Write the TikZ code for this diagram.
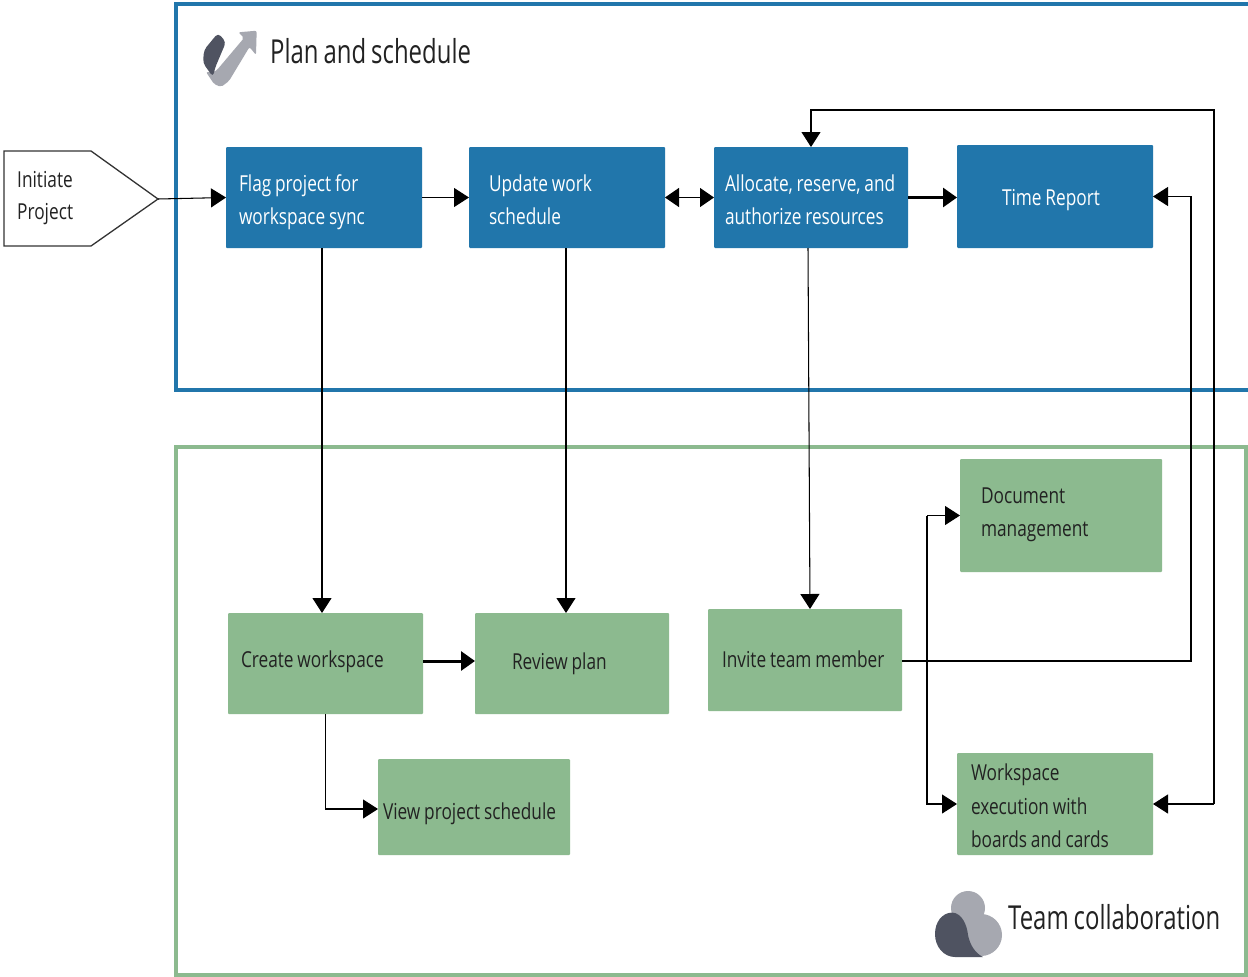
\documentclass[tikz,border=0pt]{standalone}
\usepackage{fontspec}
\setmainfont[FakeStretch=0.785,WordSpace=0.85]{Open Sans}
\newfontfamily\titlefont[FakeStretch=0.725,WordSpace=0.8]{Open Sans}
\usetikzlibrary{arrows.meta}
\definecolor{bluefill}{HTML}{2176AB}
\definecolor{greenfill}{HTML}{8CBA8F}
\definecolor{icondark}{HTML}{4F5361}
\definecolor{icongray}{HTML}{A6A8B0}
\definecolor{inktext}{HTML}{222222}
\tikzset{
  x=1pt,y=-1pt,
  box/.style={anchor=north west,rounded corners=1pt,outer sep=0pt,inner sep=0pt,font=\fontsize{22}{33.5}\selectfont},
  bluebox/.style={box,fill=bluefill,text=white},
  greenbox/.style={box,fill=greenfill,text=inktext},
  frameb/.style={draw=bluefill,line width=4pt},
  frameg/.style={draw=greenfill,line width=4pt},
  conn/.style={draw=black,line width=1.05pt,-{Triangle[length=15pt,width=19pt,fill=black]}},
  bold conn/.style={conn,line width=3pt,-{Triangle[length=14pt,width=19pt,fill=black]}},
  both conn/.style={conn,{Triangle[length=14pt,width=19pt,fill=black]}-{Triangle[length=14pt,width=19pt,fill=black]}},
  title/.style={anchor=west,inner sep=0pt,text=inktext,font=\titlefont\fontsize{33}{36}\selectfont},
}
% style,name,x0,y0,x1,y1,left offset,downward text shift,text
\newcommand{\bx}[9]{%
  \pgfmathsetlengthmacro{\bw}{#5-#3}\pgfmathsetlengthmacro{\bh}{#6-#4}%
  \node[#1,minimum width=\bw,minimum height=\bh] (#2) at (#3,#4)
    {\makebox[\bw][l]{\hspace*{#7pt}\smash{\raisebox{-#8pt}{\begin{tabular}{@{}l@{}}#9\end{tabular}}}}};}
\begin{document}
\begin{tikzpicture}
\useasboundingbox (0,0) rectangle (1248,977);
\fill[white] (0,0) rectangle (1248,977);
% frames
\draw[frameb] (176,3.5) rectangle (1250,389.5);
\draw[frameg] (176,446.5) rectangle (1246,975);
% start shape
\draw[draw=black!80,line width=1.3pt,fill=white] (4,151) -- (91,151) -- (158,199) -- (91,246) -- (4,246) -- cycle;
\coordinate (tip) at (158,199);
\node[anchor=north west,align=left,inner sep=0pt,text=inktext,font=\fontsize{22}{32}\selectfont] (init) at (17,171) {Initiate\\Project};
% blue boxes
\bx{bluebox}{flag}{226}{147}{422}{248}{13}{9}{Flag project for\\workspace sync}
\bx{bluebox}{update}{469}{147}{665}{248}{20}{9}{Update work\\schedule}
\bx{bluebox}{alloc}{714}{147}{908}{248}{11}{9}{Allocate, reserve, and\\authorize resources}
\bx{bluebox}{time}{957}{145}{1153}{248}{45}{7}{Time Report}
% green boxes
\bx{greenbox}{create}{228}{613}{423}{714}{13}{2}{Create workspace}
\bx{greenbox}{review}{475}{613}{669}{714}{37}{4}{Review plan}
\bx{greenbox}{invite}{708}{609}{902}{711}{14}{6}{Invite team member}
\bx{greenbox}{view}{378}{759}{570}{855}{5}{11}{View project schedule}
\bx{greenbox}{doc}{960}{459}{1162}{572}{21}{3}{Document\\management}
\bx{greenbox}{work}{957}{753}{1153}{855}{14}{8.5}{Workspace\\execution with\\boards and cards}
% titles
\node[title] (plan) at (270,51) {Plan and schedule};
\node[title] (team) at (1008,917) {Team collaboration};
% plan icon
\fill[icongray,rounded corners=2pt] (238.3,32.3) -- (256.7,30.7) -- (256,55) -- (249.5,47) -- (229,81) -- (221,87) -- (214,84) -- (206,72) -- (214,72) -- (217,70) -- (244,38) -- cycle;
\fill[icondark,rounded corners=4pt] (218,33) -- (226,42) -- (215,68) -- (213,77) -- (203,63) -- (204,50) -- cycle;
% cloud icon
\fill[icongray] (968,908) circle[radius=17];
\fill[icongray] (981,935) circle[radius=21];
\fill[icongray] (952,912) -- (985,915) -- (981,956) -- (960,950) -- cycle;
\fill[icondark] (952,912.5) .. controls (942,913) and (935,922) .. (935,934) .. controls (935,947) and (944,957) .. (955,957) -- (983,957) .. controls (975,953) and (970,945) .. (968,935) .. controls (967,925) and (962,913) .. (952,912.5) -- cycle;
% connectors
\draw[conn] (tip) -- (flag.west);
\draw[conn] (flag.east) -- (update.west);
\draw[both conn] (update.east) -- (alloc.west);
\draw[bold conn] (alloc.east) -- (time.west |- alloc.east);
\draw[conn] (flag.south -| 322,0) -- (322,0 |- create.north);
\draw[conn] (update.south -| 566,0) -- (566,0 |- review.north);
\draw[conn] (alloc.south -| 808,0) -- (810,0 |- invite.north);
\draw[bold conn] ([yshift=2.5pt]create.east) -- ([yshift=2.5pt]review.west);
\draw[conn] (create.south) |- ([yshift=-2pt]view.west);
\draw[conn] ([yshift=-1pt]invite.east) -- ([yshift=-1pt]1191,0 |- invite.east) -- (1191,0 |- time.east) -- (time.east);
\draw[conn] (1214,0 |- work.east) -- (1214,110) -- (811,110) -- (811,0 |- alloc.north);
\draw[conn] (1214,0 |- work.east) -- (work.east);
\draw[conn] (927,0 |- doc.west) -- (927,0 |- work.west) -- (work.west);
\draw[conn] (927,0 |- doc.west) -- (doc.west);
\end{tikzpicture}
\end{document}
